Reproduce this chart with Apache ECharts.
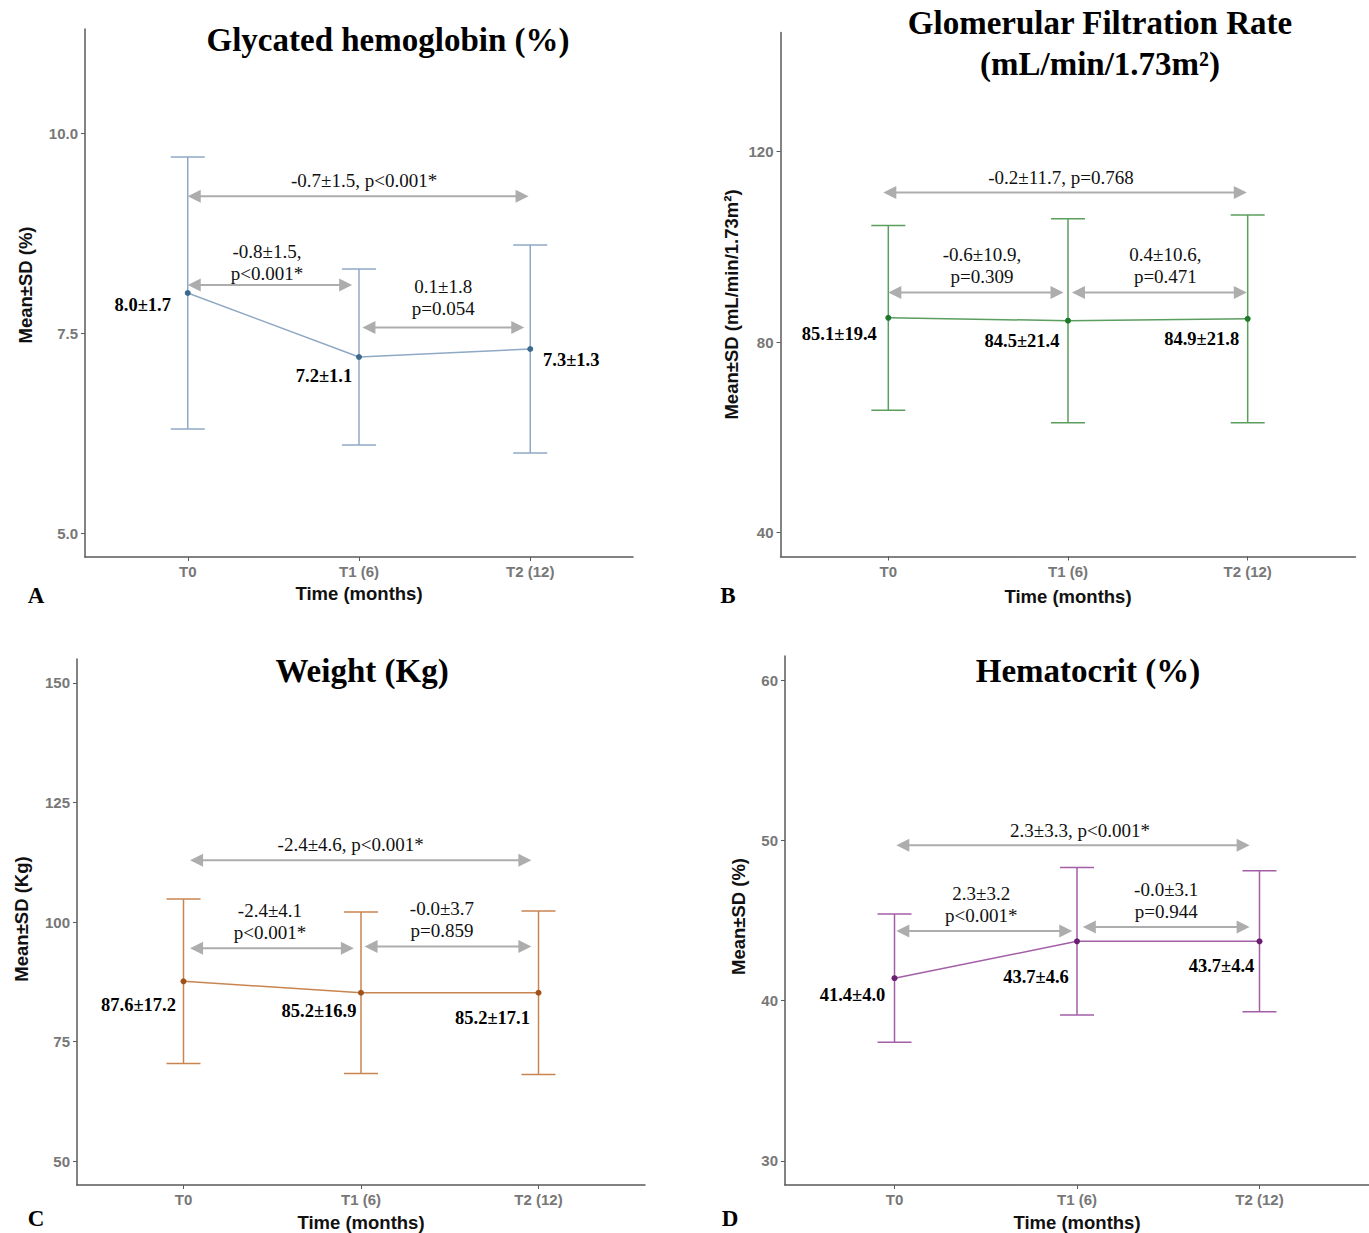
<!DOCTYPE html>
<html><head><meta charset="utf-8">
<script src="https://cdn.jsdelivr.net/npm/echarts@6/dist/echarts.min.js"></script>
<style>html,body{margin:0;padding:0;background:#fff}#c{width:1369px;height:1233px}</style>
</head><body><div id="c"></div>
<script>
// ---------- DATA ----------
const categories = ['T0', 'T1 (6)', 'T2 (12)'];

// A: Glycated hemoglobin (%)
const hba1cMean = [8.0, 7.2, 7.3];
const hba1cSD = [1.7, 1.1, 1.3];
const hba1cTicks = [5.0, 7.5, 10.0];
const hba1cRange = [4.7, 11.3];
const hba1cCompare = [[0, 1.99, 9.21], [0, 0.96, 8.1], [1.02, 1.965, 7.57]]; // [from, to, y]
const hba1cCompareText = ['-0.7±1.5, p<0.001*', '-0.8±1.5,\np<0.001*', '0.1±1.8\np=0.054'];

// B: Glomerular Filtration Rate
const gfrMean = [85.1, 84.5, 84.9];
const gfrSD = [19.4, 21.4, 21.8];
const gfrTicks = [40, 80, 120];
const gfrRange = [35, 145];
const gfrCompare = [[-0.028, 1.995, 111.4], [0, 0.975, 90.4], [1.022, 1.995, 90.4]];
const gfrCompareText = ['-0.2±11.7, p=0.768', '-0.6±10.9,\np=0.309', '0.4±10.6,\np=0.471'];

// C: Weight (Kg)
const weightMean = [87.6, 85.2, 85.2];
const weightSD = [17.2, 16.9, 17.1];
const weightTicks = [50, 75, 100, 125, 150];
const weightRange = [45, 155];
const weightCompare = [[0.037, 1.96, 112.9], [0.037, 0.96, 94.5], [1.02, 1.96, 94.9]];
const weightCompareText = ['-2.4±4.6, p<0.001*', '-2.4±4.1\np<0.001*', '-0.0±3.7\np=0.859'];

// D: Hematocrit (%)
const hctMean = [41.4, 43.7, 43.7];
const hctSD = [4.0, 4.6, 4.4];
const hctTicks = [30, 40, 50, 60];
const hctRange = [28.5, 61.5];
const hctCompare = [[0.01, 1.946, 49.7], [0.01, 0.974, 44.35], [1.032, 1.946, 44.6]];
const hctCompareText = ['2.3±3.3, p<0.001*', '2.3±3.2\np<0.001*', '-0.0±3.1\np=0.944'];

const titles = ['Glycated hemoglobin (%)', 'Glomerular Filtration Rate\n(mL/min/1.73m²)', 'Weight (Kg)', 'Hematocrit (%)'];
const yNames = ['Mean±SD (%)', 'Mean±SD (mL/min/1.73m²)', 'Mean±SD (Kg)', 'Mean±SD (%)'];
const xName = 'Time (months)';
const letters = ['A', 'B', 'C', 'D'];

// ---------- LAYOUT / STYLE ----------
const panels = [
  {mean: hba1cMean, sd: hba1cSD, ticks: hba1cTicks, range: hba1cRange, cmp: hba1cCompare, cmpText: hba1cCompareText, dec: 1},
  {mean: gfrMean, sd: gfrSD, ticks: gfrTicks, range: gfrRange, cmp: gfrCompare, cmpText: gfrCompareText, dec: 0},
  {mean: weightMean, sd: weightSD, ticks: weightTicks, range: weightRange, cmp: weightCompare, cmpText: weightCompareText, dec: 0},
  {mean: hctMean, sd: hctSD, ticks: hctTicks, range: hctRange, cmp: hctCompare, cmpText: hctCompareText, dec: 0}
];
const layout = [
  {grid: {left: 85, top: 29, width: 548, height: 528}, xNameGap: 27, yNameGap: 50, yNamePad: [0, 0, 0, 16],
   lineColor: '#8fa9c4', pointColor: '#3b6a8f',
   valueOffsets: [[-45, 12], [-35, 19], [41, 11]], cmpNudge: [[6, 0], [-3, 4.5], [0, -3]],
   title: [388, 40], letter: [36, 595]},
  {grid: {left: 780.5, top: 32.5, width: 575, height: 524}, xNameGap: 30, yNameGap: 40, yNamePad: [0, 20, 0, 0],
   lineColor: '#5b9e5e', pointColor: '#1d7a2b',
   valueOffsets: [[-49, 16], [-46, 20], [-46, 20]], cmpNudge: [[-4, 1], [6, -0.5], [6, 0]],
   title: [1100, 43], letter: [728, 595]},
  {grid: {left: 77, top: 659, width: 568, height: 527}, xNameGap: 28, yNameGap: 46, yNamePad: [0, 0, 0, 6],
   lineColor: '#c98550', pointColor: '#a0521c',
   valueOffsets: [[-45, 24], [-42, 18], [-46, 25]], cmpNudge: [[-10, 0], [-2, 0], [-6, 0]],
   title: [362, 671], letter: [36, 1218]},
  {grid: {left: 785, top: 656, width: 584, height: 530}, xNameGap: 28, yNameGap: 37, yNamePad: [0, 0, 0, 8],
   lineColor: '#a35ea8', pointColor: '#6b1f73',
   valueOffsets: [[-42, 17], [-41, 36], [-38, 25]], cmpNudge: [[7, 1], [-3, 1], [0, 1]],
   title: [1088, 671], letter: [730, 1218]}
];

const SANS = '"Liberation Sans", Arial, sans-serif';
const SERIF = '"Liberation Serif", "Times New Roman", serif';
const axisColor = '#5a5a5a';
const tickLabelColor = '#777777';
const arrowColor = '#adadad';

const grids = [], xAxes = [], yAxes = [], series = [], graphics = [];

panels.forEach((p, i) => {
  const L = layout[i];
  grids.push(Object.assign({containLabel: false}, L.grid));
  xAxes.push({
    type: 'value', gridIndex: i, min: -0.6, max: 2.6,
    axisLine: {show: true, onZero: false, lineStyle: {color: axisColor, width: 1.5}},
    axisTick: {show: true, length: 4, customValues: [0, 1, 2], lineStyle: {color: axisColor, width: 1}},
    axisLabel: {customValues: [0, 1, 2], formatter: v => categories[Math.round(v)],
      color: tickLabelColor, fontWeight: 'bold', fontSize: 15, fontFamily: SANS, margin: 7},
    splitLine: {show: false},
    name: xName, nameLocation: 'middle', nameGap: L.xNameGap,
    nameTextStyle: {color: '#111', fontWeight: 'bold', fontSize: 18.5, fontFamily: SANS}
  });
  yAxes.push({
    type: 'value', gridIndex: i, min: p.range[0], max: p.range[1],
    axisLine: {show: true, onZero: false, lineStyle: {color: axisColor, width: 1.5}},
    axisTick: {show: true, length: 4, customValues: p.ticks, lineStyle: {color: axisColor, width: 1}},
    axisLabel: {customValues: p.ticks, formatter: v => v.toFixed(p.dec),
      color: tickLabelColor, fontWeight: 'bold', fontSize: 15, fontFamily: SANS, margin: 7},
    splitLine: {show: false},
    name: yNames[i], nameLocation: 'middle', nameGap: L.yNameGap,
    nameTextStyle: {color: '#111', fontWeight: 'bold', fontSize: 18.5, fontFamily: SANS, padding: L.yNamePad}
  });

  // error bars
  series.push({
    type: 'custom', xAxisIndex: i, yAxisIndex: i, z: 2,
    encode: {x: 0, y: [1, 2]},
    data: p.mean.map((m, k) => [k, m - p.sd[k], m + p.sd[k]]),
    renderItem: (params, api) => {
      const x = api.value(0), lo = api.value(1), hi = api.value(2);
      const a = api.coord([x, lo]), b = api.coord([x, hi]);
      const st = {stroke: L.lineColor, lineWidth: 1.5};
      const hw = 17;
      return {type: 'group', children: [
        {type: 'line', shape: {x1: a[0], y1: a[1], x2: b[0], y2: b[1]}, style: st},
        {type: 'line', shape: {x1: a[0] - hw, y1: a[1], x2: a[0] + hw, y2: a[1]}, style: st},
        {type: 'line', shape: {x1: b[0] - hw, y1: b[1], x2: b[0] + hw, y2: b[1]}, style: st}
      ]};
    }
  });

  // mean line + points + value labels
  series.push({
    type: 'line', xAxisIndex: i, yAxisIndex: i, z: 3,
    symbol: 'circle', symbolSize: 6, showSymbol: true,
    lineStyle: {color: L.lineColor, width: 1.5},
    itemStyle: {color: L.pointColor},
    data: p.mean.map((m, k) => ({value: [k, m], label: {offset: L.valueOffsets[k]}})),
    label: {show: true, position: 'inside',
      formatter: prm => p.mean[prm.dataIndex].toFixed(1) + '±' + p.sd[prm.dataIndex].toFixed(1),
      color: '#000', fontWeight: 'bold', fontSize: 18.5, fontFamily: SERIF},
    emphasis: {disabled: true}
  });

  // comparison arrows
  series.push({
    type: 'custom', xAxisIndex: i, yAxisIndex: i, z: 4,
    encode: {x: [0, 1], y: 2},
    data: p.cmp,
    renderItem: (params, api) => {
      const x1 = api.value(0), x2 = api.value(1), y = api.value(2);
      const p1 = api.coord([x1, y]), p2 = api.coord([x2, y]);
      const AL = 13, AW = 6.5;
      const nud = L.cmpNudge[params.dataIndex];
      return {type: 'group', children: [
        {type: 'line', shape: {x1: p1[0] + AL - 1, y1: p1[1], x2: p2[0] - AL + 1, y2: p2[1]},
          style: {stroke: arrowColor, lineWidth: 2}},
        {type: 'polygon', shape: {points: [[p1[0], p1[1]], [p1[0] + AL, p1[1] - AW], [p1[0] + AL, p1[1] + AW]]},
          style: {fill: arrowColor}},
        {type: 'polygon', shape: {points: [[p2[0], p2[1]], [p2[0] - AL, p2[1] - AW], [p2[0] - AL, p2[1] + AW]]},
          style: {fill: arrowColor}},
        {type: 'text', style: {text: p.cmpText[params.dataIndex],
          x: (p1[0] + p2[0]) / 2 + nud[0], y: p1[1] - 5 + nud[1],
          align: 'center', verticalAlign: 'bottom', textAlign: 'center', textVerticalAlign: 'bottom',
          font: '19px ' + SERIF, fill: '#111', lineHeight: 22}}
      ]};
    }
  });

  graphics.push({type: 'text', x: L.title[0], y: L.title[1], z: 10,
    style: {text: titles[i], font: 'bold 33px ' + SERIF, fill: '#000', lineHeight: 41,
      align: 'center', verticalAlign: 'middle', textAlign: 'center', textVerticalAlign: 'middle'}});
  graphics.push({type: 'text', x: L.letter[0], y: L.letter[1], z: 10,
    style: {text: letters[i], font: 'bold 23px ' + SERIF, fill: '#000',
      align: 'center', verticalAlign: 'middle', textAlign: 'center', textVerticalAlign: 'middle'}});
});

const chart = echarts.init(document.getElementById('c'), null, {renderer: 'svg', width: 1369, height: 1233});
chart.setOption({
  animation: false,
  backgroundColor: '#fff',
  grid: grids, xAxis: xAxes, yAxis: yAxes, series: series, graphic: graphics
});
</script></body></html>
